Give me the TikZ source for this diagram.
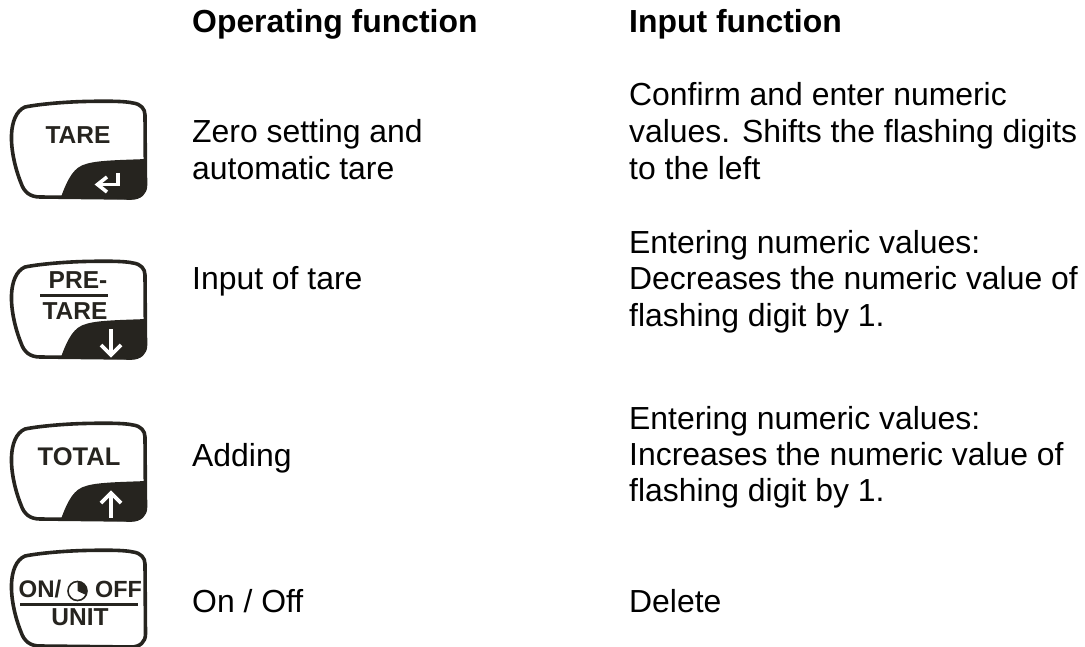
\documentclass[tikz,border=0pt]{standalone}
\usepackage{fontspec}
\setmainfont[Ligatures=NoCommon]{Liberation Sans}
\definecolor{ink}{HTML}{26241F}
\tikzset{
  x=1pt,y=-1pt,
  body/.style={font=\fontsize{31.9}{36}\selectfont,anchor=base west,inner sep=0pt,align=left,text=black},
  head/.style={body,font=\fontsize{31.9}{36}\selectfont\bfseries},
  keylabel/.style={font=\fontsize{24.5}{24}\selectfont\bfseries,text=ink,inner sep=0pt,anchor=base},
  smalllabel/.style={keylabel,anchor=base west,font=\fontsize{24}{24}\selectfont\bfseries},
  keyline/.style={draw=ink,line width=3.6pt},
  whitearrow/.style={draw=white,line width=3.6pt},
  pics/keyoutline/.style={code={
    \draw[keyline,line join=round] (84,31.5) .. controls (105,31) and (125,31) .. (133,33)
      .. controls (141,34) and (145,39) .. (145,45) -- (145.5,115)
      .. controls (145.5,123) and (140,128) .. (131,128)
      -- (40,127) .. controls (30,127) and (24,122) .. (21,113)
      .. controls (15,98) and (11,80) .. (11.5,65)
      .. controls (12,52) and (16,41) .. (25,37)
      .. controls (40,34) and (65,32) .. (84,31.5) -- cycle;
  }},
  pics/keydark/.style={code={
    \fill[ink] (61,127) .. controls (68,108) and (74,97) .. (86,94)
      .. controls (98,90) and (125,90) .. (146,89)
      -- (147,115) .. controls (147,124) and (140,129) .. (131,129.5) -- cycle;
  }}
}
\begin{document}
\begin{tikzpicture}
\useasboundingbox (0,0) rectangle (1085,647);
% headings
\node[head] (h1) at (192,32.5) {Operating function};
\node[head] (h2) at (629,32.5) {Input function};
% TARE key
\pic at (0,70) {keydark};
\pic at (0,70) {keyoutline};
\node[keylabel] (k1) at (78,143.5) {TARE};
\draw[whitearrow,line join=miter] (118,173) -- (118,184.5) -- (100,184.5);
\draw[whitearrow,line join=miter] (107,177) -- (97.5,184.5) -- (107,192);
% PRE-TARE key
\pic at (0,230) {keydark};
\pic at (0,230) {keyoutline};
\node[keylabel] (k2a) at (78,289) {PRE-};
\draw[draw=ink,line width=2.8pt] (40,295.5) -- (108,295.5);
\node[keylabel] (k2b) at (75,319.5) {TARE};
\draw[whitearrow] (111,329) -- (111,354);
\draw[whitearrow,line join=miter] (101,345) -- (111,355) -- (121,345);
% TOTAL key
\pic at (0,392) {keydark};
\pic at (0,392) {keyoutline};
\node[keylabel,font=\fontsize{25.5}{24}\selectfont\bfseries] (k3) at (79,465) {TOTAL};
\draw[whitearrow] (111,517.5) -- (111,494);
\draw[whitearrow,line join=miter] (101,503) -- (111,493) -- (121,503);
% ON/OFF key
\pic at (0,519) {keyoutline};
\node[smalllabel] (k4a) at (18.5,597) {ON/};
\draw[draw=ink,line width=1.6pt] (77.5,591) circle (9.5pt);
\fill[ink] (77.5,591) -- (77.5,581.5) arc[start angle=90,end angle=-25,radius=9.5pt] -- cycle;
\node[smalllabel,font=\fontsize{23.4}{24}\selectfont\bfseries] (k4b) at (95,597) {OFF};
\draw[draw=ink,line width=2.8pt] (20,604.5) -- (138,604.5);
\node[keylabel] (k4c) at (80,625.5) {UNIT};
% rows
\node[body] (a1) at (192,142.7) {Zero setting and};
\node[body] (a2) at (192,180) {automatic tare};
\node[body] (b1) at (629,106) {Confirm and enter numeric};
\node[body] (b2) at (629,142.7) {values. Shifts the flashing digits};
\node[body] (b3) at (629,180) {to the left};
\node[body] (a3) at (192,290) {Input of tare};
\node[body] (c1) at (629,253.3) {Entering numeric values:};
\node[body] (c2) at (629,290) {Decreases the numeric value of};
\node[body] (c3) at (629,326.7) {flashing digit by 1.};
\node[body] (a4) at (192,466.5) {Adding};
\node[body] (d1) at (629,429) {Entering numeric values:};
\node[body] (d2) at (629,465.7) {Increases the numeric value of};
\node[body] (d3) at (629,501.7) {flashing digit by 1.};
\node[body] (a5) at (192,612.7) {On / Off};
\node[body] (e1) at (629,612.3) {Delete};
\end{tikzpicture}
\end{document}
